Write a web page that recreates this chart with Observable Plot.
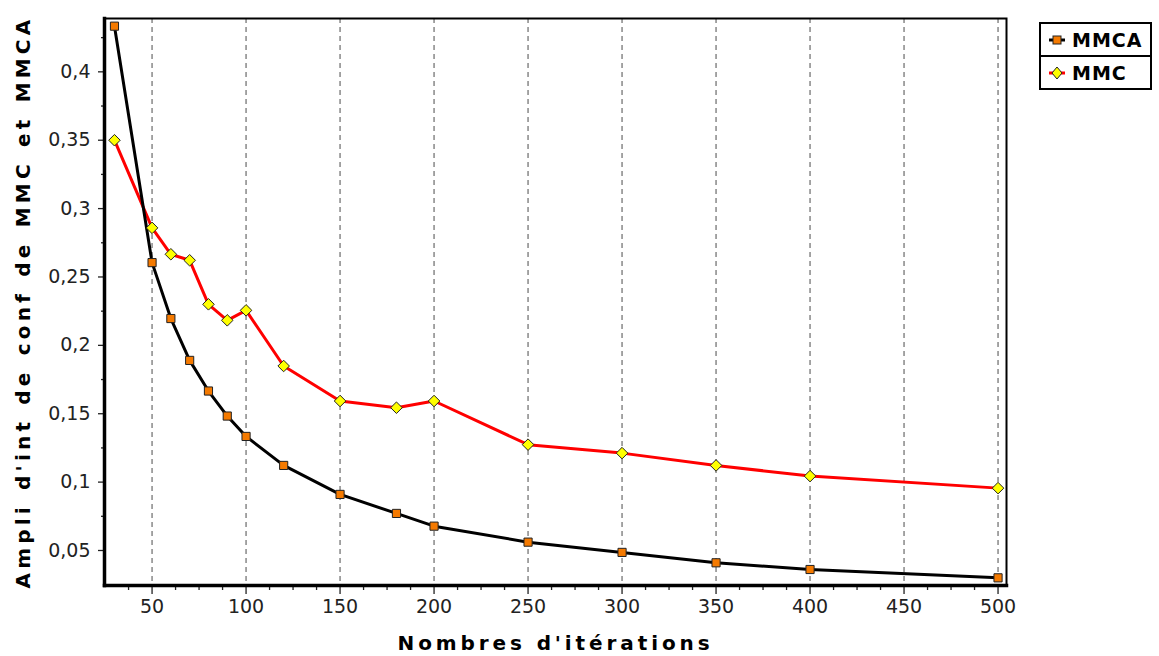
<!DOCTYPE html>
<html>
<head>
<meta charset="utf-8">
<script src="https://cdn.jsdelivr.net/npm/d3@7"></script>
<script src="https://cdn.jsdelivr.net/npm/@observablehq/plot@0.6"></script>
<style>
  html, body { margin: 0; padding: 0; background: #fff; }
  #wrap { position: relative; width: 1159px; height: 656px; overflow: hidden; }
  .chart [aria-label="y-axis label"] text,
  .chart [aria-label="x-axis label"] text {
    font-family: "DejaVu Sans", sans-serif; font-weight: bold; font-size: 20px; fill: #000;
    letter-spacing: 3.9px;
  }
  .chart [aria-label="y-axis label"] text { letter-spacing: 4.2px; word-spacing: 2px; }
  #legend {
    position: absolute; left: 1039px; top: 22px; width: 109px;
    border: 2px solid #000; background: #fff;
    font-family: "DejaVu Sans", sans-serif; font-weight: bold; font-size: 19px; letter-spacing: 1px;
  }
  #legend .row { display: flex; align-items: center; height: 31px; }
  #legend .row + .row { border-top: 2px solid #000; }
  #legend svg { margin-left: 7px; margin-right: 6px; }
</style>
</head>
<body>
<div id="wrap"></div>
<script>
// Data
const iterations = [30, 50, 60, 70, 80, 90, 100, 120, 150, 180, 200, 250, 300, 350, 400, 500];
const mmca = [0.4334, 0.2605, 0.2196, 0.189, 0.1666, 0.1483, 0.1334, 0.1122, 0.091, 0.0771, 0.0678, 0.0561, 0.0486, 0.041, 0.0361, 0.030];
const mmc  = [0.350, 0.2859, 0.2666, 0.2622, 0.230, 0.2183, 0.2256, 0.1849, 0.1593, 0.1544, 0.1593, 0.1274, 0.1212, 0.1122, 0.1044, 0.0956];
const seriesNames = ["MMCA", "MMC"];
const xTicks = [50, 100, 150, 200, 250, 300, 350, 400, 450, 500];
const xMinorTicks = [37.5, 62.5, 75, 87.5, 112.5, 125, 137.5, 162.5, 175, 187.5, 212.5, 225, 237.5, 262.5, 275, 287.5, 312.5, 325, 337.5, 362.5, 375, 387.5, 412.5, 425, 437.5, 462.5, 475, 487.5];
const yTicks = [0.05, 0.1, 0.15, 0.2, 0.25, 0.3, 0.35, 0.4];
const yMinorTicks = [0.075, 0.125, 0.175, 0.225, 0.275, 0.325, 0.375, 0.425];
const xLabel = "Nombres d'itérations";
const yLabel = "Ampli d'int de conf de MMC et MMCA";

const rows = iterations.map((x, i) => ({x, mmca: mmca[i], mmc: mmc[i]}));
const fmtY = d => String(+d.toFixed(3)).replace(".", ",");

const chart = Plot.plot({
  className: "chart",
  width: 1159,
  height: 656,
  marginLeft: 104,
  marginRight: 153,
  marginTop: 18,
  marginBottom: 71,
  style: {fontFamily: "DejaVu Sans, sans-serif", fontSize: "19px", color: "#222", background: "#fff"},
  x: {domain: [24.7, 504.5]},
  y: {domain: [0.0244, 0.439]},
  marks: [
    Plot.ruleX(xTicks, {stroke: "#888", strokeWidth: 1.5, strokeDasharray: "5,4"}),
    Plot.axisX(xMinorTicks, {tickSize: 5, text: null, label: null, stroke: "#222", strokeWidth: 1.3}),
    Plot.axisX(xTicks, {tickSize: 9, tickPadding: 5, stroke: "#222", strokeWidth: 1.3,
      label: xLabel, labelAnchor: "center", labelOffset: 64, labelArrow: "none"}),
    Plot.axisY(yMinorTicks, {tickSize: 3, text: null, label: null, stroke: "#222", strokeWidth: 1.3}),
    Plot.axisY(yTicks, {tickSize: 6, tickPadding: 8, tickFormat: fmtY, stroke: "#222", strokeWidth: 1.3,
      label: yLabel, labelAnchor: "center", labelOffset: 89, labelArrow: "none"}),
    Plot.frame({stroke: "#000", strokeWidth: 2}),
    Plot.frame({anchor: "left", stroke: "#000", strokeWidth: 3.5}),
    Plot.frame({anchor: "bottom", stroke: "#000", strokeWidth: 3.5}),
    Plot.line(rows, {x: "x", y: "mmc", stroke: "#ff0000", strokeWidth: 3}),
    Plot.line(rows, {x: "x", y: "mmca", stroke: "#000", strokeWidth: 3}),
    Plot.dot(rows, {x: "x", y: "mmca", symbol: "square", r: 4.6, fill: "#f57a00", stroke: "#222", strokeWidth: 1}),
    Plot.dot(rows, {x: "x", y: "mmc", symbol: "diamond2", r: 5.2, fill: "#ffff00", stroke: "#222", strokeWidth: 1})
  ]
});
// Remove any direction arrow if this Plot build adds one regardless
d3.select(chart).selectAll('[aria-label="x-axis label"] text, [aria-label="y-axis label"] text')
  .each(function() {
    const t = this.textContent;
    if (t.includes(xLabel)) this.textContent = xLabel;
    else if (t.includes(yLabel)) this.textContent = yLabel;
  });
const wrap = document.getElementById("wrap");
wrap.appendChild(chart);

// Legend (HTML, placed top right)
const legend = document.createElement("div");
legend.id = "legend";
const swatches = {
  MMCA: `<svg width="18" height="12"><line x1="1" y1="6" x2="17" y2="6" stroke="#000" stroke-width="3"/><rect x="5" y="2" width="8" height="8" fill="#f57a00" stroke="#222" stroke-width="1"/></svg>`,
  MMC: `<svg width="18" height="14"><line x1="1" y1="7" x2="17" y2="7" stroke="#ff0000" stroke-width="3"/><path d="M9,1L14,7L9,13L4,7Z" fill="#ffff00" stroke="#222" stroke-width="1"/></svg>`
};
legend.innerHTML = seriesNames.map(n => `<div class="row">${swatches[n]}<span>${n}</span></div>`).join("");
wrap.appendChild(legend);
</script>
</body>
</html>
